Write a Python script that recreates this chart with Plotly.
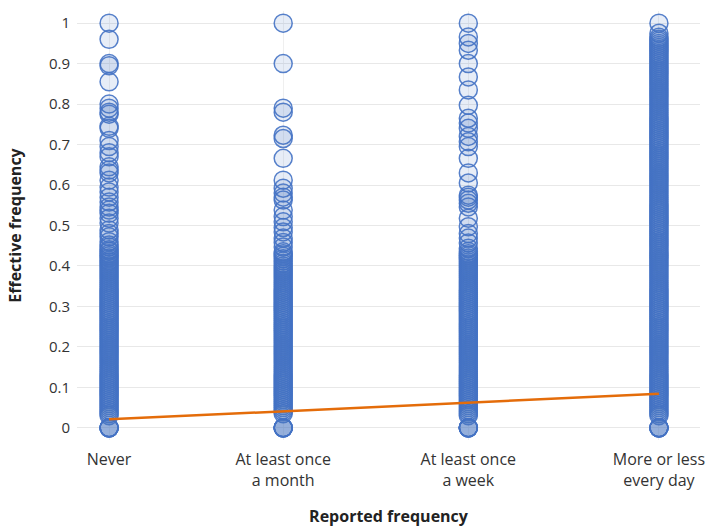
import plotly.graph_objects as go

categories = ["Never", "At least once<br>a month", "At least once<br>a week", "More or less<br>every day"]
x_codes = [0, 0.95, 1.96, 3]

never_vals = [1.0, 0.96, 0.9, 0.895, 0.855, 0.8, 0.79, 0.78, 0.775, 0.745, 0.74, 0.71, 0.695, 0.68,
              0.67, 0.645, 0.637, 0.63, 0.612, 0.595, 0.583, 0.57, 0.558, 0.546, 0.538, 0.53, 0.518,
              0.506, 0.489, 0.48, 0.472, 0.46, 0.452, 0.447, 0.44, 0.436, 0.43, 0.425, 0.42, 0.414,
              0.41, 0.405, 0.4, 0.395, 0.39, 0.385, 0.38, 0.375, 0.37, 0.365, 0.36, 0.355, 0.35, 0.345,
              0.34, 0.335, 0.33, 0.325, 0.32, 0.315, 0.31, 0.305, 0.3, 0.295, 0.29, 0.285, 0.28, 0.275,
              0.27, 0.265, 0.26, 0.255, 0.25, 0.245, 0.24, 0.235, 0.23, 0.225, 0.22, 0.215, 0.21, 0.205,
              0.2, 0.195, 0.19, 0.185, 0.18, 0.175, 0.17, 0.165, 0.16, 0.155, 0.15, 0.145, 0.14, 0.135,
              0.13, 0.125, 0.12, 0.115, 0.11, 0.105, 0.1, 0.095, 0.09, 0.085, 0.08, 0.075, 0.07, 0.065,
              0.06, 0.055, 0.05, 0.045, 0.04, 0.035, 0.03, 0, 0, 0, 0, 0, 0]

month_vals = [1.0, 0.9, 0.79, 0.78, 0.723, 0.715, 0.666, 0.612, 0.592, 0.58, 0.57, 0.563, 0.538,
              0.522, 0.509, 0.495, 0.484, 0.469, 0.458, 0.447, 0.435, 0.43, 0.424, 0.418, 0.412, 0.406,
              0.4, 0.395, 0.39, 0.385, 0.38, 0.375, 0.37, 0.365, 0.36, 0.355, 0.35, 0.345, 0.34, 0.335,
              0.33, 0.325, 0.32, 0.315, 0.31, 0.305, 0.3, 0.295, 0.29, 0.285, 0.28, 0.275, 0.27, 0.265,
              0.26, 0.255, 0.25, 0.245, 0.24, 0.235, 0.23, 0.225, 0.22, 0.215, 0.21, 0.205, 0.2, 0.195,
              0.19, 0.185, 0.18, 0.175, 0.17, 0.165, 0.16, 0.155, 0.15, 0.145, 0.14, 0.135, 0.13, 0.125,
              0.12, 0.115, 0.11, 0.105, 0.1, 0.095, 0.09, 0.085, 0.08, 0.075, 0.07, 0.065, 0.06, 0.055,
              0.05, 0.045, 0.04, 0.035, 0, 0, 0, 0, 0, 0]

week_vals = [1.0, 0.966, 0.95, 0.933, 0.9, 0.867, 0.835, 0.797, 0.765, 0.753, 0.74, 0.72, 0.707,
             0.695, 0.666, 0.63, 0.605, 0.575, 0.57, 0.563, 0.555, 0.546, 0.518, 0.497, 0.48, 0.469,
             0.457, 0.444, 0.436, 0.43, 0.425, 0.42, 0.415, 0.41, 0.405, 0.4, 0.395, 0.39, 0.385,
             0.38, 0.375, 0.37, 0.365, 0.36, 0.355, 0.35, 0.345, 0.34, 0.335, 0.33, 0.325, 0.32, 0.315,
             0.31, 0.305, 0.3, 0.295, 0.29, 0.285, 0.28, 0.275, 0.27, 0.265, 0.26, 0.255, 0.25, 0.245,
             0.24, 0.235, 0.23, 0.225, 0.22, 0.215, 0.21, 0.205, 0.2, 0.195, 0.19, 0.185, 0.18, 0.175,
             0.17, 0.165, 0.16, 0.155, 0.15, 0.145, 0.14, 0.135, 0.13, 0.125, 0.12, 0.115, 0.11, 0.105,
             0.1, 0.095, 0.09, 0.085, 0.08, 0.075, 0.07, 0.065, 0.06, 0.055, 0.05, 0.045, 0.04, 0.035,
             0.03, 0, 0, 0, 0, 0, 0]

day_vals = [1.0, 0.975, 0.965, 0.96, 0.955, 0.95, 0.945, 0.94, 0.935, 0.93, 0.925, 0.92, 0.915, 0.91,
            0.905, 0.9, 0.895, 0.89, 0.885, 0.88, 0.875, 0.87, 0.865, 0.86, 0.855, 0.85, 0.845, 0.84,
            0.835, 0.83, 0.825, 0.82, 0.815, 0.81, 0.805, 0.8, 0.795, 0.79, 0.785, 0.78, 0.775, 0.77,
            0.765, 0.76, 0.755, 0.75, 0.745, 0.74, 0.735, 0.73, 0.725, 0.72, 0.715, 0.71, 0.705, 0.7,
            0.695, 0.69, 0.685, 0.68, 0.675, 0.67, 0.665, 0.66, 0.655, 0.65, 0.645, 0.64, 0.635, 0.63,
            0.625, 0.62, 0.615, 0.61, 0.605, 0.6, 0.595, 0.59, 0.585, 0.58, 0.575, 0.57, 0.565, 0.56,
            0.555, 0.55, 0.545, 0.54, 0.535, 0.53, 0.525, 0.52, 0.515, 0.51, 0.505, 0.5, 0.495, 0.49,
            0.485, 0.48, 0.475, 0.47, 0.465, 0.46, 0.455, 0.45, 0.445, 0.44, 0.435, 0.43, 0.425, 0.42,
            0.415, 0.41, 0.405, 0.4, 0.395, 0.39, 0.385, 0.38, 0.375, 0.37, 0.365, 0.36, 0.355, 0.35,
            0.345, 0.34, 0.335, 0.33, 0.325, 0.32, 0.315, 0.31, 0.305, 0.3, 0.295, 0.29, 0.285, 0.28,
            0.275, 0.27, 0.265, 0.26, 0.255, 0.25, 0.245, 0.24, 0.235, 0.23, 0.225, 0.22, 0.215, 0.21,
            0.205, 0.2, 0.195, 0.19, 0.185, 0.18, 0.175, 0.17, 0.165, 0.16, 0.155, 0.15, 0.145, 0.14,
            0.135, 0.13, 0.125, 0.12, 0.115, 0.11, 0.105, 0.1, 0.095, 0.09, 0.085, 0.08, 0.075, 0.07,
            0.065, 0.06, 0.055, 0.05, 0.045, 0.04, 0.035, 0.03, 0, 0, 0, 0, 0, 0]

trend_x = [0, 3]
trend_y = [0.021, 0.084]

y_ticks = [0, 0.1, 0.2, 0.3, 0.4, 0.5, 0.6, 0.7, 0.8, 0.9, 1]
y_tick_text = ["0", "0.1", "0.2", "0.3", "0.4", "0.5", "0.6", "0.7", "0.8", "0.9", "1"]

xs, ys = [], []
for code, vals in zip(x_codes, [never_vals, month_vals, week_vals, day_vals]):
    xs += [code] * len(vals)
    ys += vals

fig = go.Figure()
fig.add_trace(go.Scatter(
    x=xs, y=ys, mode="markers",
    marker=dict(symbol="circle", size=18, color="rgba(68,114,196,0.13)",
                line=dict(color="rgba(68,114,196,0.9)", width=1.5)),
    showlegend=False, hoverinfo="skip"))
fig.add_trace(go.Scatter(
    x=trend_x, y=trend_y, mode="lines",
    line=dict(color="#E46C0A", width=2.5), showlegend=False, hoverinfo="skip"))

font_family = "Open Sans, Lato, sans-serif"
fig.update_layout(
    width=708, height=527,
    margin=dict(l=77, r=8, t=11, b=87),
    paper_bgcolor="white", plot_bgcolor="white",
    font=dict(family=font_family, size=14, color="#333333"),
    xaxis=dict(range=[-0.175, 3.224], tickmode="array", tickvals=x_codes, ticktext=categories,
               automargin=False,
               showgrid=True, gridcolor="#efefef", gridwidth=1, zeroline=False, showline=False,
               ticks="", ticklabelstandoff=8, tickfont=dict(size=16, color="#333333"),
               title=dict(text="<b>Reported frequency</b>", font=dict(size=16, color="#222222"),
                          standoff=30)),
    yaxis=dict(range=[-0.03, 1.03], tickmode="array", tickvals=y_ticks, ticktext=y_tick_text,
               automargin=False,
               showgrid=True, gridcolor="#e8e8e8", gridwidth=1, zeroline=False, showline=False,
               ticks="", ticklabelstandoff=6, tickfont=dict(size=15, color="#333333"),
               title=dict(text="<b>Effective frequency</b>", font=dict(size=16, color="#222222"),
                          standoff=23)),
)

fig.write_html("out.html", config={"displayModeBar": False},
               post_script="document.body.style.margin='0px';")
